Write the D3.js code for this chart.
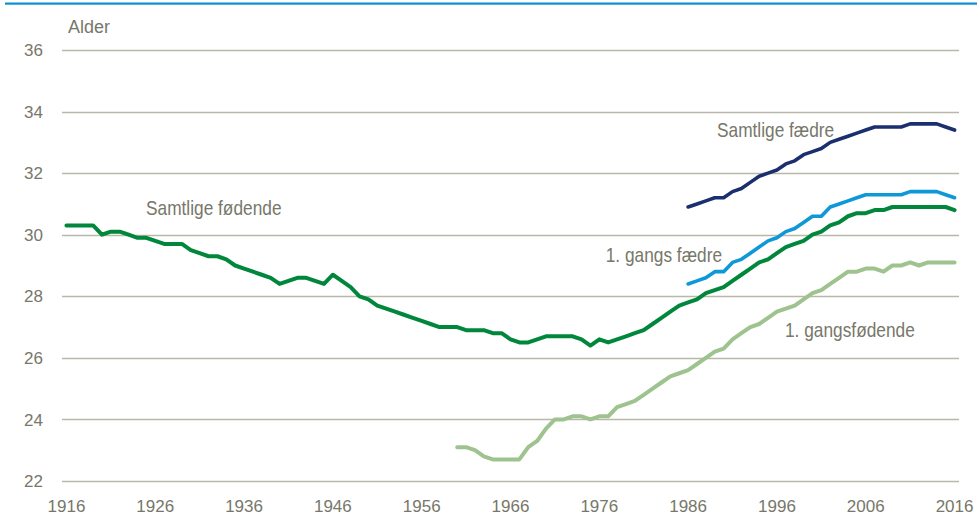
<!DOCTYPE html>
<html>
<head>
<meta charset="utf-8">
<script src="https://cdn.jsdelivr.net/npm/d3@7"></script>
<style>
  html, body { margin: 0; padding: 0; background: #fff; }
  svg { display: block; }
  text { font-family: "Liberation Sans Narrow", "Arial Narrow", "Liberation Sans", sans-serif; fill: #77776a; }
</style>
</head>
<body>
<svg id="chart" width="977" height="515"></svg>
<script>
// Gennemsnitsalder (år) - fødende og fædre
const yTicks = [22, 24, 26, 28, 30, 32, 34, 36];
const xTicks = [1916, 1926, 1936, 1946, 1956, 1966, 1976, 1986, 1996, 2006, 2016];

// Samtlige fødende, 1916-2016
const samtligeFoedendeStart = 1916;
const samtligeFoedende = [
  30.3, 30.3, 30.3, 30.3, 30.0, 30.1, 30.1, 30.0, 29.9, 29.9,
  29.8, 29.7, 29.7, 29.7, 29.5, 29.4, 29.3, 29.3, 29.2, 29.0,
  28.9, 28.8, 28.7, 28.6, 28.4, 28.5, 28.6, 28.6, 28.5, 28.4,
  28.7, 28.5, 28.3, 28.0, 27.9, 27.7, 27.6, 27.5, 27.4, 27.3,
  27.2, 27.1, 27.0, 27.0, 27.0, 26.9, 26.9, 26.9, 26.8, 26.8,
  26.6, 26.5, 26.5, 26.6, 26.7, 26.7, 26.7, 26.7, 26.6, 26.4,
  26.6, 26.5, 26.6, 26.7, 26.8, 26.9, 27.1, 27.3, 27.5, 27.7,
  27.8, 27.9, 28.1, 28.2, 28.3, 28.5, 28.7, 28.9, 29.1, 29.2,
  29.4, 29.6, 29.7, 29.8, 30.0, 30.1, 30.3, 30.4, 30.6, 30.7,
  30.7, 30.8, 30.8, 30.9, 30.9, 30.9, 30.9, 30.9, 30.9, 30.9,
  30.8
];

// 1. gangsfødende, 1960-2016
const foersteFoedendeStart = 1960;
const foersteFoedende = [
  23.1, 23.1, 23.0, 22.8, 22.7, 22.7, 22.7, 22.7, 23.1, 23.3,
  23.7, 24.0, 24.0, 24.1, 24.1, 24.0, 24.1, 24.1, 24.4, 24.5,
  24.6, 24.8, 25.0, 25.2, 25.4, 25.5, 25.6, 25.8, 26.0, 26.2,
  26.3, 26.6, 26.8, 27.0, 27.1, 27.3, 27.5, 27.6, 27.7, 27.9,
  28.1, 28.2, 28.4, 28.6, 28.8, 28.8, 28.9, 28.9, 28.8, 29.0,
  29.0, 29.1, 29.0, 29.1, 29.1, 29.1, 29.1
];

// Samtlige fædre, 1986-2016
const samtligeFaedreStart = 1986;
const samtligeFaedre = [
  30.9, 31.0, 31.1, 31.2, 31.2, 31.4, 31.5, 31.7, 31.9, 32.0,
  32.1, 32.3, 32.4, 32.6, 32.7, 32.8, 33.0, 33.1, 33.2, 33.3,
  33.4, 33.5, 33.5, 33.5, 33.5, 33.6, 33.6, 33.6, 33.6, 33.5,
  33.4
];

// 1. gangs fædre, 1986-2016
const foersteFaedreStart = 1986;
const foersteFaedre = [
  28.4, 28.5, 28.6, 28.8, 28.8, 29.1, 29.2, 29.4, 29.6, 29.8,
  29.9, 30.1, 30.2, 30.4, 30.6, 30.6, 30.9, 31.0, 31.1, 31.2,
  31.3, 31.3, 31.3, 31.3, 31.3, 31.4, 31.4, 31.4, 31.4, 31.3,
  31.2
];

const series = [
  { name: "Samtlige fædre", start: samtligeFaedreStart, values: samtligeFaedre, color: "#1b2f6e", width: 3.6 },
  { name: "1. gangs fædre", start: foersteFaedreStart, values: foersteFaedre, color: "#0f98d8", width: 3.6 },
  { name: "Samtlige fødende", start: samtligeFoedendeStart, values: samtligeFoedende, color: "#00873c", width: 4 },
  { name: "1. gangsfødende", start: foersteFoedendeStart, values: foersteFoedende, color: "#9ec38e", width: 4 }
];

const labels = [
  { text: "Samtlige fødende", x: 146, y: 215, anchor: "start" },
  { text: "Samtlige fædre", x: 717, y: 137, anchor: "start" },
  { text: "1. gangs fædre", x: 722, y: 262, anchor: "end" },
  { text: "1. gangsfødende", x: 785, y: 337, anchor: "start" }
];

const svg = d3.select("#chart");

const x = d3.scaleLinear().domain([1915.5, 2016.5]).range([62, 959]);
const y = d3.scaleLinear().domain([22, 36]).range([481, 50]);

// top rule
svg.append("rect").attr("x", 5).attr("y", 2.5).attr("width", 972).attr("height", 2.2).attr("fill", "#0a8fd0");

// horizontal grid
svg.append("g")
  .selectAll("line")
  .data(yTicks)
  .join("line")
  .attr("x1", x.range()[0]).attr("x2", x.range()[1])
  .attr("y1", d => Math.round(y(d)) + 0.5).attr("y2", d => Math.round(y(d)) + 0.5)
  .attr("stroke", "#b9b7a8")
  .attr("stroke-width", 1.3);

// y labels
svg.append("g")
  .selectAll("text")
  .data(yTicks)
  .join("text")
  .attr("x", 43)
  .attr("y", d => y(d))
  .attr("dy", "0.36em")
  .attr("text-anchor", "end")
  .attr("font-size", 17)
  .text(d => d);

// x labels
svg.append("g")
  .selectAll("text")
  .data(xTicks)
  .join("text")
  .attr("x", d => x(d))
  .attr("y", 512)
  .attr("text-anchor", "middle")
  .attr("font-size", 17)
  .text(d => d);

svg.append("text")
  .attr("x", 68).attr("y", 33)
  .attr("font-size", 18)
  .text("Alder");

const line = d3.line()
  .x(d => x(d.year))
  .y(d => y(d.value));

svg.append("g")
  .selectAll("path")
  .data(series)
  .join("path")
  .attr("d", s => line(s.values.map((v, i) => ({ year: s.start + i, value: v }))))
  .attr("fill", "none")
  .attr("stroke", s => s.color)
  .attr("stroke-width", s => s.width)
  .attr("stroke-linejoin", "round")
  .attr("stroke-linecap", "round");

// series labels, squeezed a bit to look like the narrow font of the original
svg.append("g")
  .selectAll("text")
  .data(labels)
  .join("text")
  .attr("transform", d => `translate(${d.x},${d.y}) scale(0.865,1)`)
  .attr("text-anchor", d => d.anchor)
  .attr("font-size", 20)
  .text(d => d.text);
</script>
</body>
</html>
